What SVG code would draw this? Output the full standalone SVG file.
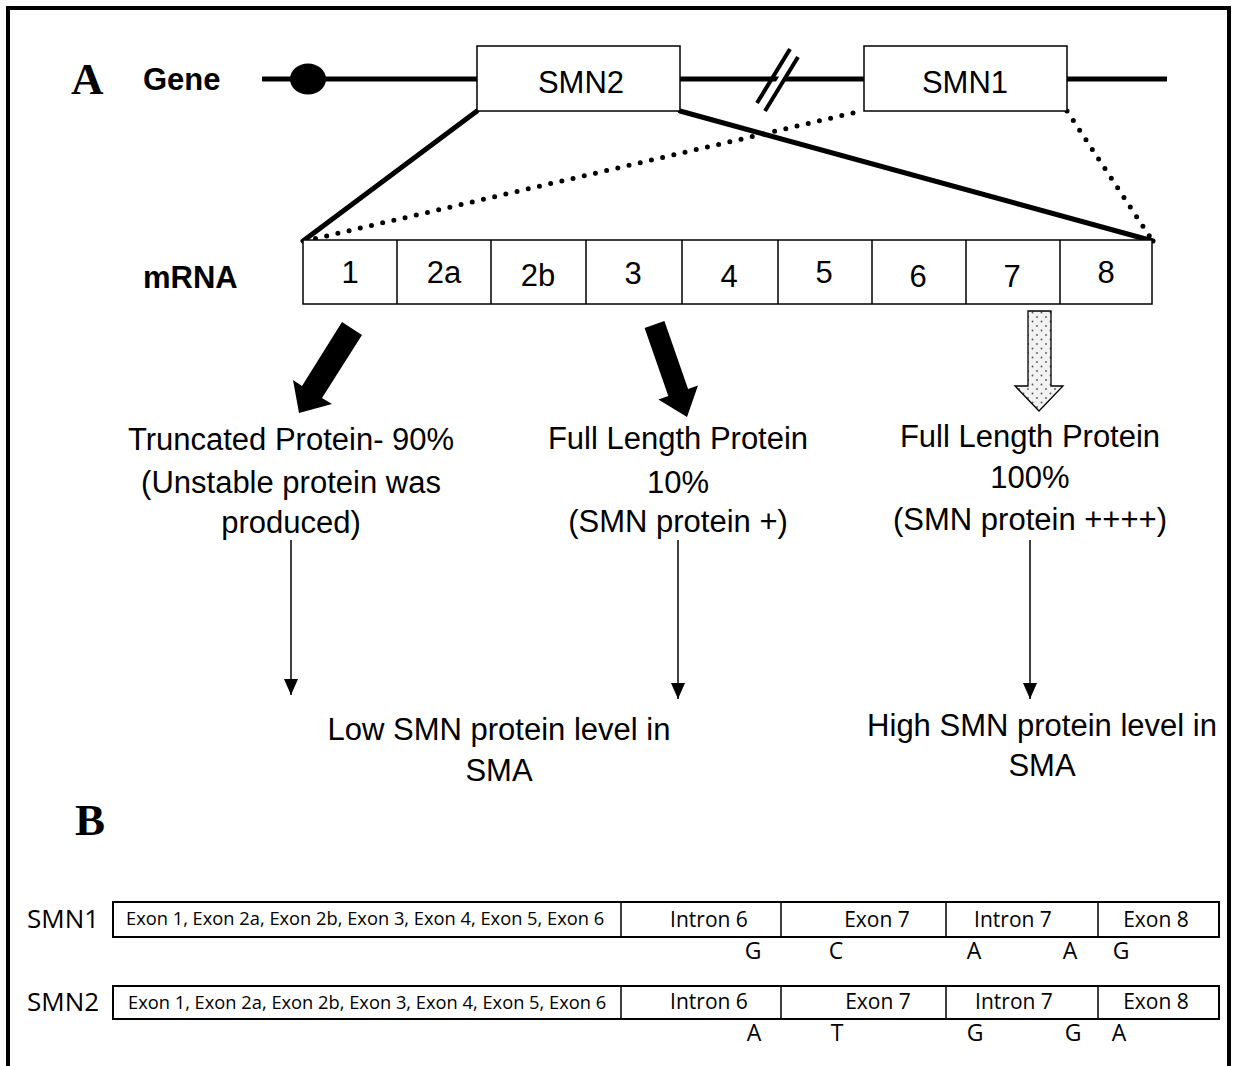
<svg xmlns="http://www.w3.org/2000/svg" width="1239" height="1066" viewBox="0 0 1239 1066">
<style>
.s{font-family:"Liberation Sans",Arial,sans-serif;font-size:31px;fill:#000}
.b{font-weight:bold}
.c{text-anchor:middle}
.ser{font-family:"Liberation Serif","Times New Roman",serif;font-weight:bold;font-size:45px}
.o{font-family:"Open Sans","Noto Sans",sans-serif;fill:#000}
.box{fill:#fff;stroke:#000;stroke-width:1.5}
.thick{stroke:#000;stroke-width:5;fill:none}
.dot{stroke:#000;stroke-width:5;fill:none;stroke-dasharray:0 11.5;stroke-linecap:round}
.thin{stroke:#000;stroke-width:1.5;fill:none}
.bbox{fill:#fff;stroke:#000;stroke-width:2}
</style>
<defs>
<pattern id="dots" width="9" height="9" patternUnits="userSpaceOnUse">
<rect width="9" height="9" fill="#f2f2f2"/>
<circle cx="2" cy="2" r="0.9" fill="#555"/>
<circle cx="6.5" cy="6.5" r="0.9" fill="#555"/>
</pattern>
<marker id="ah" viewBox="0 0 16 14" refX="16" refY="7" markerWidth="16" markerHeight="14" markerUnits="userSpaceOnUse" orient="auto">
<path d="M0,0 L16,7 L0,14 Z" fill="#000"/>
</marker>
</defs>
<rect width="1239" height="1066" fill="#fff"/>
<path d="M8,1066 V8 H1229 V1066" fill="none" stroke="#000" stroke-width="4"/>

<g id="labels">
<text class="ser" x="71" y="94">A</text>
<text class="ser" x="75" y="835">B</text>
<text class="s b" x="143" y="90">Gene</text>
<text class="s b" x="143" y="288">mRNA</text>
</g>

<g id="connectors">
<line class="thick" x1="262" y1="79" x2="477" y2="79"/>
<line class="thick" x1="680" y1="79" x2="864" y2="79"/>
<line class="thick" x1="1067" y1="79" x2="1167" y2="79"/>
<polygon points="761,107 793,53 801,53 769,107" fill="#fff"/>
<line x1="757" y1="103" x2="790" y2="49" stroke="#000" stroke-width="4"/>
<line x1="765" y1="111" x2="798" y2="57" stroke="#000" stroke-width="4"/>
<line class="thick" x1="477" y1="111" x2="303" y2="241" stroke-linecap="round"/>
<line class="thick" x1="680" y1="111" x2="1153" y2="241" stroke-linecap="round"/>
<line class="dot" x1="853" y1="113" x2="305" y2="241"/>
<line class="dot" x1="1067" y1="111" x2="1152" y2="240"/>
<line class="thin" x1="291" y1="540" x2="291" y2="695" marker-end="url(#ah)"/>
<line class="thin" x1="678" y1="540" x2="678" y2="699" marker-end="url(#ah)"/>
<line class="thin" x1="1030" y1="540" x2="1030" y2="699" marker-end="url(#ah)"/>
</g>

<g id="promoter"><ellipse cx="308" cy="79" rx="18" ry="15.5" fill="#000"/></g>

<g id="smn2-gene">
<rect class="box" x="477" y="46" width="203" height="65"/>
<text class="s c" x="581" y="93">SMN2</text>
</g>
<g id="smn1-gene">
<rect class="box" x="864" y="46" width="203" height="65"/>
<text class="s c" x="965" y="93">SMN1</text>
</g>

<g id="mrna">
<rect class="box" x="303" y="240" width="849" height="64"/>
<path class="thin" d="M397,240V304M491,240V304M586,240V304M682,240V304M778,240V304M872,240V304M966,240V304M1060,240V304"/>
<text class="s c" font-size="33" x="350" y="283">1</text>
<text class="s c" font-size="33" x="444" y="283">2a</text>
<text class="s c" font-size="33" x="538" y="286">2b</text>
<text class="s c" font-size="33" x="633" y="284">3</text>
<text class="s c" font-size="33" x="729" y="287">4</text>
<text class="s c" font-size="33" x="824" y="283">5</text>
<text class="s c" font-size="33" x="918" y="287">6</text>
<text class="s c" font-size="33" x="1012" y="287">7</text>
<text class="s c" font-size="33" x="1106" y="283">8</text>
</g>

<g id="arrow-truncated">
<polygon points="342,322 362,335 322,398 332,404 299,413 293,380 302,386" fill="#000"/>
</g>
<g id="arrow-full-smn2">
<polygon points="644.6,328 664.4,321 688.1,388.9 698,385.4 687,417 658.4,399.4 668.3,395.9" fill="#000"/>
</g>
<g id="arrow-full-smn1">
<polygon points="1028,311 1051,311 1051,386 1063,386 1039,411 1015,386 1028,386" fill="url(#dots)" stroke="#000" stroke-width="1.3"/>
</g>

<g id="truncated-protein">
<text class="s c" x="291" y="450">Truncated Protein- 90%</text>
<text class="s c" x="291" y="493">(Unstable protein was</text>
<text class="s c" x="291" y="533">produced)</text>
</g>
<g id="full-protein-10">
<text class="s c" x="678" y="449">Full Length Protein</text>
<text class="s c" x="678" y="493">10%</text>
<text class="s c" x="678" y="532">(SMN protein +)</text>
</g>
<g id="full-protein-100">
<text class="s c" x="1030" y="447">Full Length Protein</text>
<text class="s c" x="1030" y="488">100%</text>
<text class="s c" x="1030" y="530">(SMN protein ++++)</text>
</g>
<g id="low-level">
<text class="s c" x="499" y="740">Low SMN protein level in</text>
<text class="s c" x="499" y="781">SMA</text>
</g>
<g id="high-level">
<text class="s c" x="1042" y="736">High SMN protein level in</text>
<text class="s c" x="1042" y="776">SMA</text>
</g>

<g id="smn1-seq">
<text class="o" font-size="26" x="27" y="928">SMN1</text>
<rect class="bbox" x="113" y="902" width="1106" height="35"/>
<path class="thin" d="M621,902V937M781,902V937M946,902V937M1098,902V937"/>
<text class="o" font-size="18.3" x="126" y="925">Exon 1, Exon 2a, Exon 2b, Exon 3, Exon 4, Exon 5, Exon 6</text>
<g class="o" font-size="21" text-anchor="middle">
<text x="709" y="927">Intron 6</text>
<text x="877" y="927">Exon 7</text>
<text x="1013" y="927">Intron 7</text>
<text x="1156" y="927">Exon 8</text>
</g>
<g class="o" font-size="23" text-anchor="middle">
<text x="753" y="959">G</text>
<text x="836" y="959">C</text>
<text x="974" y="959">A</text>
<text x="1070" y="959">A</text>
<text x="1121" y="959">G</text>
</g>
</g>

<g id="smn2-seq">
<text class="o" font-size="26" x="27" y="1011">SMN2</text>
<rect class="bbox" x="113" y="986" width="1106" height="33"/>
<path class="thin" d="M621,986V1019M781,986V1019M946,986V1019M1098,986V1019"/>
<text class="o" font-size="18.3" x="128" y="1009">Exon 1, Exon 2a, Exon 2b, Exon 3, Exon 4, Exon 5, Exon 6</text>
<g class="o" font-size="21" text-anchor="middle">
<text x="709" y="1009">Intron 6</text>
<text x="878" y="1009">Exon 7</text>
<text x="1014" y="1009">Intron 7</text>
<text x="1156" y="1009">Exon 8</text>
</g>
<g class="o" font-size="23" text-anchor="middle">
<text x="754" y="1041">A</text>
<text x="837" y="1041">T</text>
<text x="975" y="1041">G</text>
<text x="1073" y="1041">G</text>
<text x="1119" y="1041">A</text>
</g>
</g>
</svg>
